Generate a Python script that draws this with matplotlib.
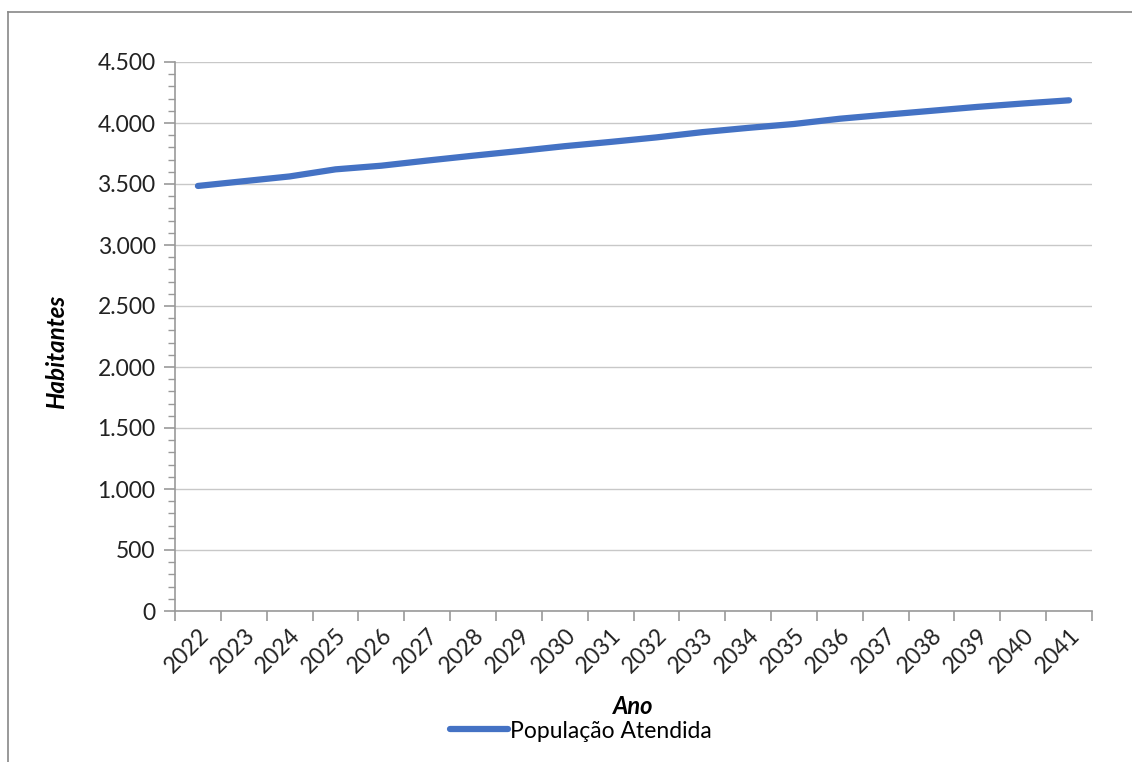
import matplotlib
matplotlib.use("Agg")
import matplotlib.pyplot as plt
from matplotlib.ticker import MultipleLocator, FuncFormatter
from matplotlib.lines import Line2D

plt.rcParams['font.family'] = ['Lato', 'DejaVu Sans']

# data
anos = [str(a) for a in range(2022, 2042)]
populacao = [3484, 3523, 3562, 3620, 3650, 3692, 3732, 3770, 3810, 3845,
             3882, 3925, 3960, 3992, 4035, 4068, 4100, 4132, 4160, 4186]
serie_nome = "População Atendida"

fig = plt.figure(figsize=(11.32, 7.62), dpi=100)
ax = fig.add_axes([175/1132, 151/762, 917/1132, 549/762])

x = list(range(len(anos)))
ax.plot(x, populacao, color='#4472C4', lw=4.5, solid_capstyle='round',
        label=serie_nome, zorder=3)

ax.set_xlim(-0.5, len(anos) - 0.5)
ax.set_ylim(0, 4500)
ax.yaxis.set_major_locator(MultipleLocator(500))
ax.yaxis.set_minor_locator(MultipleLocator(100))
ax.yaxis.set_major_formatter(FuncFormatter(lambda v, p: f"{int(v):,}".replace(",", ".")))
ax.grid(axis='y', which='major', color='#c8c8c8', lw=1.0, zorder=0)

# category ticks sit between the categories (excel style)
ax.set_xticks([i - 0.5 for i in range(len(anos) + 1)])
ax.set_xticklabels([])
ax.set_xticks(x, minor=True)
ax.set_xticklabels(anos, minor=True, rotation=45, ha='right', va='top',
                   rotation_mode='anchor', fontsize=16.5, color='#222222')
ax.tick_params(axis='x', which='major', length=7, color='#999999', width=1.2)
ax.tick_params(axis='x', which='minor', length=0, pad=10)
ax.tick_params(axis='y', which='major', length=8, color='#999999', width=1.2,
               labelsize=16.5, labelcolor='#222222', pad=6)
ax.tick_params(axis='y', which='minor', length=5, color='#999999', width=1.0)

for s in ['top', 'right']:
    ax.spines[s].set_visible(False)
for s in ['left', 'bottom']:
    ax.spines[s].set_color('#999999')
    ax.spines[s].set_linewidth(1.2)

ax.set_ylabel("Habitantes", fontsize=17.5, fontweight='bold', style='italic')
ax.yaxis.set_label_coords(-0.1167, 0.472)
fig.text(633/1132, 1 - 706/762, "Ano", fontsize=17, fontweight='bold',
         style='italic', ha='center', va='center')

handle = Line2D([], [], color='#4472C4', lw=4.5, solid_capstyle='round')
fig.legend([handle], [serie_nome], loc='center', bbox_to_anchor=(581/1132, 1 - 731/762),
           frameon=False, fontsize=16.5, handlelength=2.5, handletextpad=0.1)

# outer chart border (top and left visible in the reference)
fig.add_artist(Line2D([8/1132, 1], [1 - 12/762, 1 - 12/762], color='#888888', lw=1.2))
fig.add_artist(Line2D([8/1132, 8/1132], [0, 1 - 12/762], color='#888888', lw=1.2))

fig.savefig("out.png", dpi=100)
